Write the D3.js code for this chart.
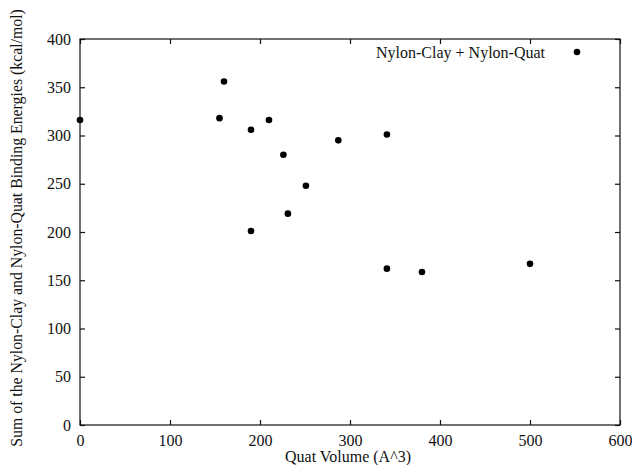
<!DOCTYPE html>
<html><head><meta charset="utf-8">
<script src="https://cdn.jsdelivr.net/npm/d3@7"></script>
<style>body{margin:0;background:#fff}svg{display:block}text{font-family:"Liberation Serif","Times New Roman",serif;fill:#111}</style>
</head><body>
<script>
const quatVolume = [0, 155, 160, 190, 210, 226, 251, 231, 190, 287, 341, 341, 380, 500];
const bindingEnergy = [316, 318, 356, 306, 316, 280, 248, 219, 201, 295, 301, 162, 158.5, 167];
const xTicks = [0, 100, 200, 300, 400, 500, 600];
const yTicks = [0, 50, 100, 150, 200, 250, 300, 350, 400];
const seriesName = "Nylon-Clay + Nylon-Quat";
const xTitle = "Quat Volume (A^3)";
const yTitle = "Sum of the Nylon-Clay and Nylon-Quat Binding Energies (kcal/mol)";

(function(){
const W = 632, H = 465;
const m = {l: 80, r: 12, t: 39, b: 40};
const svg = d3.select("body").append("svg").attr("width", W).attr("height", H);
const x = d3.scaleLinear().domain([0, 600]).range([m.l, W - m.r]);
const y = d3.scaleLinear().domain([0, 400]).range([H - m.b, m.t]);
const fs = 16, tl = 5;

const g = svg.append("g");
g.append("rect").attr("x", x(0)).attr("y", y(400)).attr("width", x(600) - x(0)).attr("height", y(0) - y(400))
  .attr("fill", "none").attr("stroke", "#111").attr("stroke-width", 1.2);

const axB = d3.axisBottom(x).tickValues(xTicks).tickSize(-tl).tickPadding(9.6).tickFormat(d3.format("d"));
const axT = d3.axisTop(x).tickValues(xTicks).tickSize(-tl).tickFormat("");
const axL = d3.axisLeft(y).tickValues(yTicks).tickSize(-tl).tickPadding(9).tickFormat(d3.format("d"));
const axR = d3.axisRight(y).tickValues(yTicks).tickSize(-tl).tickFormat("");

function style(sel){ sel.select(".domain").remove(); sel.selectAll("line").attr("stroke", "#111").attr("stroke-width", 1.2);
  sel.selectAll("text").attr("font-size", fs).attr("font-family", "Liberation Serif").attr("fill", "#111"); }
g.append("g").attr("transform", `translate(0,${y(0)})`).call(axB).call(style);
g.append("g").attr("transform", `translate(0,${y(400)})`).call(axT).call(style);
g.append("g").attr("transform", `translate(${x(0)},0)`).call(axL).call(style);
g.append("g").attr("transform", `translate(${x(600)},0)`).call(axR).call(style);

svg.append("text").attr("x", 348).attr("y", 462).attr("text-anchor", "middle").attr("font-size", fs).text(xTitle);
svg.append("text").attr("transform", `translate(22,228) rotate(-90)`).attr("text-anchor", "middle")
  .attr("font-size", 15.8).text(yTitle);

const data = quatVolume.map((v, i) => ({x: v, y: bindingEnergy[i]}));
svg.append("g").selectAll("circle").data(data).join("circle")
  .attr("cx", d => x(d.x)).attr("cy", d => y(d.y)).attr("r", 3.3).attr("fill", "#000");

svg.append("text").attr("x", 545).attr("y", 58).attr("text-anchor", "end").attr("font-size", fs).text(seriesName);
svg.append("circle").attr("cx", 577).attr("cy", 52).attr("r", 3.3).attr("fill", "#000");
})();
</script>
</body></html>
